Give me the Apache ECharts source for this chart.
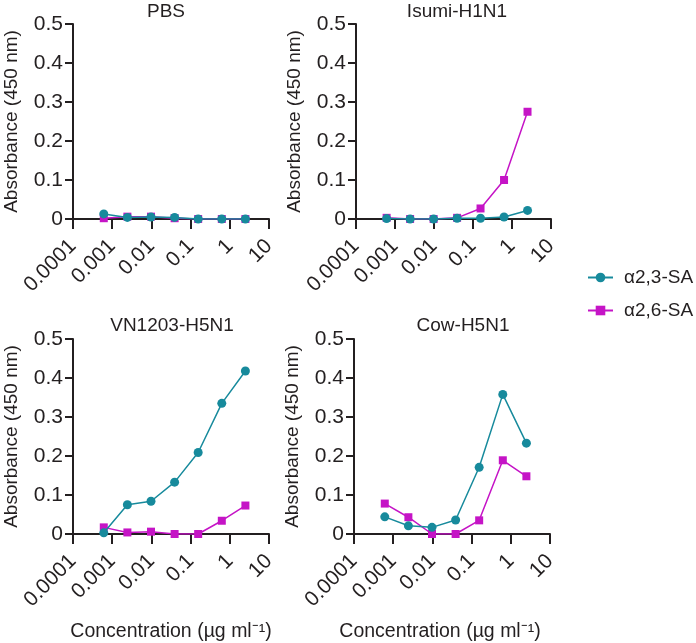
<!DOCTYPE html>
<html>
<head>
<meta charset="utf-8">
<script src="https://cdn.jsdelivr.net/npm/echarts@6/dist/echarts.min.js"></script>
<style>
html,body{margin:0;padding:0;background:#fff;}
#chart{width:696px;height:643px;}
</style>
</head>
<body>
<div id="chart"></div>
<script>
// ---- data ----
const concentrations = [0.00061, 0.00244, 0.00977, 0.0391, 0.156, 0.625, 2.5];
const panelTitles = ['PBS', 'Isumi-H1N1', 'VN1203-H5N1', 'Cow-H5N1'];
const seriesNames = ['\u03b12,3-SA', '\u03b12,6-SA'];
const xTickLabels = ['0.0001', '0.001', '0.01', '0.1', '1', '10'];
const yTickLabels = ['0', '0.1', '0.2', '0.3', '0.4', '0.5'];

const pbs_a23    = [0.013, 0.004, 0.005, 0.004, 0, 0, 0];
const pbs_a26    = [0.002, 0.006, 0.006, 0.002, 0, 0, 0];
const isumi_a23  = [0.001, 0, 0, 0.002, 0.002, 0.005, 0.022];
const isumi_a26  = [0.003, 0, 0, 0.003, 0.027, 0.100, 0.275];
const vn_a23     = [0.003, 0.075, 0.084, 0.133, 0.209, 0.335, 0.418];
const vn_a26     = [0.017, 0.004, 0.006, 0, 0, 0.034, 0.073];
const cow_a23    = [0.044, 0.021, 0.017, 0.036, 0.171, 0.358, 0.233];
const cow_a26    = [0.078, 0.043, 0, 0, 0.035, 0.189, 0.148];

const panelData = [
  [pbs_a23, pbs_a26],
  [isumi_a23, isumi_a26],
  [vn_a23, vn_a26],
  [cow_a23, cow_a26]
];

// ---- layout / style ----
const FONT = "'Liberation Sans', Arial, Helvetica, sans-serif";
const INK = '#231f20';
const TEAL = '#178a9c';
const MAGENTA = '#c514c6';
const grids = [
  {left: 73,  top: 24,  width: 196, height: 195},
  {left: 356, top: 24,  width: 195, height: 195},
  {left: 73,  top: 339, width: 196, height: 195},
  {left: 354, top: 339, width: 196, height: 195}
];
const titlePos = [[166, 2], [457, 2], [172, 316], [463, 316]];

const option = {
  backgroundColor: '#fff',
  animation: false,
  textStyle: {fontFamily: FONT},
  title: panelTitles.map((t, i) => ({
    text: t, left: titlePos[i][0], top: titlePos[i][1], textAlign: 'center', padding: 0,
    textStyle: {fontSize: 19, fontWeight: 'normal', color: INK, fontFamily: FONT}
  })),
  legend: {
    orient: 'vertical', left: 587, top: 268, padding: 0, itemWidth: 25, itemHeight: 12, itemGap: 14,
    data: seriesNames,
    textStyle: {fontSize: 19, color: INK, fontFamily: FONT, padding: [0, 0, 0, 6]}
  },
  grid: grids,
  xAxis: grids.map((g, i) => ({
    type: 'log', logBase: 10, gridIndex: i, min: 0.0001, max: 10,
    name: i >= 2 ? 'Concentration (\u00b5g ml\u207b\u00b9)' : '',
    nameLocation: 'middle', nameGap: 88,
    nameTextStyle: {fontSize: 19.5, color: INK, fontFamily: FONT, padding: i === 3 ? [0, 24, 0, 0] : 0},
    axisLine: {lineStyle: {color: INK, width: 2}},
    axisTick: {length: 10, lineStyle: {color: INK, width: 2}},
    splitLine: {show: false},
    minorTick: {show: false},
    axisLabel: {
      rotate: 45, margin: 24, fontSize: 21, color: INK, fontFamily: FONT,
      formatter: v => xTickLabels[Math.round(Math.log10(v)) + 4]
    }
  })),
  yAxis: grids.map((g, i) => ({
    type: 'value', gridIndex: i, min: 0, max: 0.5, interval: 0.1,
    name: 'Absorbance (450 nm)', nameLocation: 'middle', nameGap: 52,
    nameTextStyle: {fontSize: 19, color: INK, fontFamily: FONT},
    axisLine: {show: true, lineStyle: {color: INK, width: 2}},
    axisTick: {show: true, length: 8, lineStyle: {color: INK, width: 2}},
    splitLine: {show: false},
    axisLabel: {
      margin: 10, fontSize: 21, color: INK, fontFamily: FONT,
      formatter: v => yTickLabels[Math.round(v * 10)]
    }
  })),
  series: []
};

panelData.forEach((pair, i) => {
  pair.forEach((vals, k) => {
    option.series.push({
      name: seriesNames[k], type: 'line', xAxisIndex: i, yAxisIndex: i,
      data: concentrations.map((c, j) => [c, vals[j]]),
      symbol: k === 0 ? 'circle' : 'rect', symbolSize: k === 0 ? 9 : 8,
      z: k === 0 ? 4 : 3,
      lineStyle: {color: k === 0 ? TEAL : MAGENTA, width: 1.5},
      itemStyle: {color: k === 0 ? TEAL : MAGENTA},
      emphasis: {disabled: true}
    });
  });
});

const chart = echarts.init(document.getElementById('chart'), null, {renderer: 'canvas'});
chart.setOption(option);
</script>
</body>
</html>
